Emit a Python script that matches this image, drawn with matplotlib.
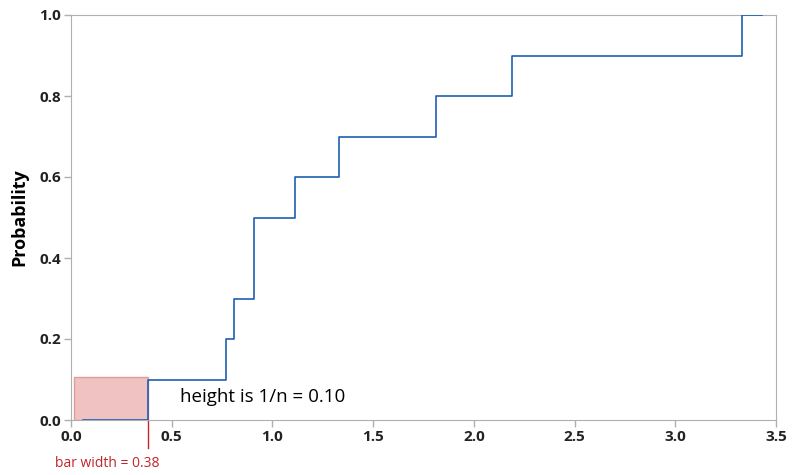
import matplotlib.pyplot as plt
import numpy as np

# Datos (ECDF de 10 observaciones)
valores = [0.38, 0.77, 0.81, 0.91, 0.91, 1.11, 1.33, 1.81, 2.19, 3.33]
x_inicio = 0.06
x_fin = 3.43
barra_izq = 0.015
ancho_barra = 0.38
alto_barra = 0.105
xticks = [0.0, 0.5, 1.0, 1.5, 2.0, 2.5, 3.0, 3.5]
yticks = [0.0, 0.2, 0.4, 0.6, 0.8, 1.0]

n = len(valores)
xs = np.concatenate([[x_inicio], np.sort(valores), [x_fin]])
ys = np.concatenate([[0.0], np.arange(1, n + 1) / n, [1.0]])

plt.rcParams['font.family'] = ['Open Sans', 'DejaVu Sans']

fig = plt.figure(figsize=(7.92, 4.75), dpi=100)
ax = fig.add_axes([71 / 792, 55 / 475, 705 / 792, 405 / 475])

# Barra roja
ax.bar(barra_izq, alto_barra, width=ancho_barra - barra_izq, align='edge',
       color='#f0c2c2', edgecolor='#e39a9a', linewidth=1.0, zorder=1)

# Escalón
ax.step(xs, ys, where='post', color='#1f5fb0', linewidth=1.2, zorder=3)

ax.set_xlim(0, 3.5)
ax.set_ylim(0, 1.0)
ax.set_xticks(xticks)
ax.set_yticks(yticks)
ax.set_xticklabels([f"{t:.1f}" for t in xticks], fontweight='bold', fontsize=11)
ax.set_yticklabels([f"{t:.1f}" for t in yticks], fontweight='bold', fontsize=11)
for s in ax.spines.values():
    s.set_color('#b0b0b0')
ax.tick_params(colors='#b0b0b0', labelcolor='#222222', length=5, width=1, pad=2)
ax.set_ylabel("Probability", fontweight='bold', fontsize=13, labelpad=8)

# Línea roja bajo el eje y anotaciones
ax.plot([ancho_barra, ancho_barra], [0, -0.07], color='#c0262b', linewidth=1.0,
        clip_on=False)
ax.text(ancho_barra - 0.2, -0.107, "bar width = 0.38", color='#c0262b', fontsize=10,
        ha='center', va='center')
ax.text(0.54, 0.058, "height is 1/n = 0.10", color='black', fontsize=13.5,
        ha='left', va='center')

fig.savefig("out.png", dpi=100)
